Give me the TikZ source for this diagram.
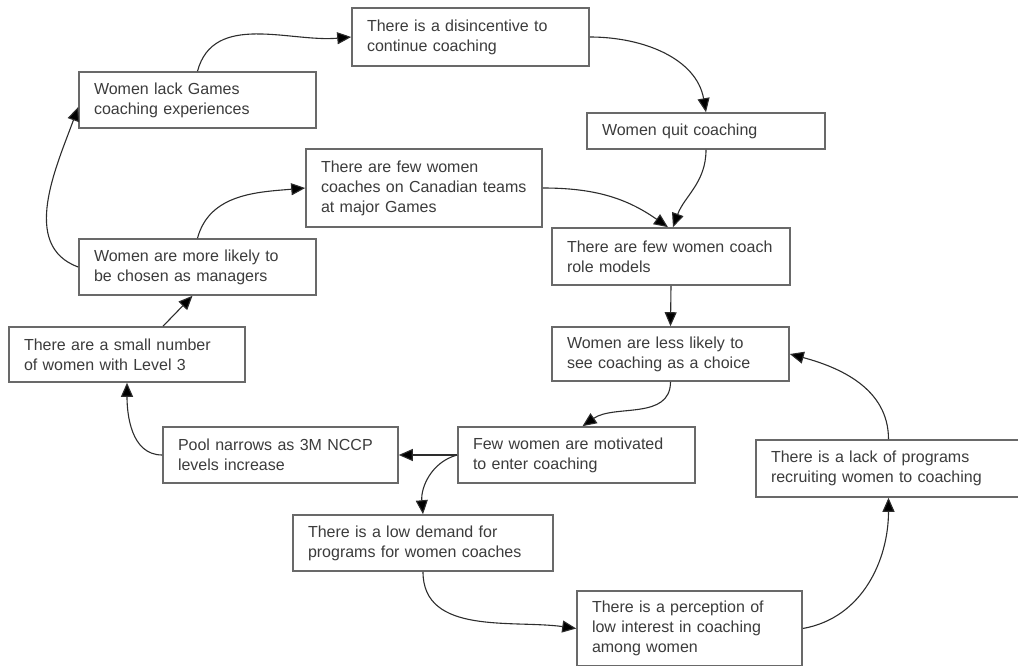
\documentclass[tikz,border=0pt]{standalone}
\usepackage{fontspec}
\setmainfont{Liberation Sans}
\usepackage{tikz}
\usetikzlibrary{arrows.meta}
\definecolor{boxgrey}{RGB}{105,105,105}
\definecolor{textgrey}{RGB}{60,60,60}
\definecolor{linegrey}{RGB}{45,45,45}

\begin{document}
\begin{tikzpicture}[x=1pt,y=1pt,
    box/.style={rectangle,draw=boxgrey,line width=1.6pt,fill=white,align=left,inner xsep=15pt,inner ysep=0pt,text=textgrey,font=\fontsize{16}{20}\selectfont},
    link/.style={-{Triangle[length=14pt,width=12pt,fill=black]},draw=linegrey,line width=1.1pt}]
    \useasboundingbox (0,0) rectangle (1018,-666);

    % Ciclo superiore
    \node[box,text width=207pt,minimum height=58pt] (disincentive) at (470.5,-37) {There is a disincentive to \\ continue coaching};
    \node[box,text width=207pt,minimum height=56pt] (lackgames) at (197.5,-100) {Women lack Games \\ coaching experiences};
    \node[box,text width=208pt,minimum height=36pt] (quit) at (706,-131) {Women quit coaching};
    \node[box,text width=206pt,minimum height=78pt] (fewgames) at (424,-188) {There are few women \\ coaches on Canadian teams \\ at major Games};
    \node[box,text width=208pt,minimum height=57pt] (rolemodels) at (671,-256.5) {There are few women coach \\ role models};
    \node[box,text width=207pt,minimum height=56pt] (managers) at (197.5,-267) {Women are more likely to \\ be chosen as managers};

    % Ciclo inferiore
    \node[box,text width=206pt,minimum height=55pt] (level3) at (127,-354.5) {There are a small number \\ of women with Level 3};
    \node[box,text width=207pt,minimum height=54pt] (lesslikely) at (670.5,-354) {Women are less likely to \\ see coaching as a choice};
    \node[box,text width=205pt,minimum height=56pt] (poolnarrows) at (280.5,-455) {Pool narrows as 3M NCCP \\ levels increase};
    \node[box,text width=207pt,minimum height=56pt] (motivated) at (576.5,-455) {Few women are motivated \\ to enter coaching};
    \node[box,text width=235pt,minimum height=57pt] (lackprograms) at (888.5,-468.5) {There is a lack of programs \\ recruiting women to coaching};
    \node[box,text width=230pt,minimum height=56pt] (lowdemand) at (423,-543) {There is a low demand for \\ programs for women coaches};
    \node[box,text width=195pt,minimum height=75pt] (perception) at (689.5,-628.5) {There is a perception of \\ low interest in coaching \\ among women};

    % Frecce
    \draw[link] (lackgames.north) to[out=75,in=185] (disincentive.west);
    \draw[link] (disincentive.east) to[out=0,in=100] (quit.north);
    \draw[link] (quit.south) to[out=-90,in=70] ([xshift=2pt]rolemodels.north);
    \draw[link] (fewgames.east) to[out=0,in=145] ([xshift=-3pt]rolemodels.north);
    \draw[link] (rolemodels.south) -- (lesslikely.north);
    \draw[link] (lesslikely.south) to[out=-90,in=35] ([xshift=6pt]motivated.north);
    \draw[link] (motivated.west) -- (poolnarrows.east);
    \draw[link] (motivated.west) to[out=195,in=95] (lowdemand.north);
    \draw[link] (poolnarrows.west) to[out=180,in=-90] (level3.south);
    \draw[link] ([xshift=36pt]level3.north) -- ([xshift=-5pt]managers.south);
    \draw[link] (managers.west) to[out=160,in=-110] ([yshift=-7pt]lackgames.west);
    \draw[link] (managers.north) to[out=75,in=185] (fewgames.west);
    \draw[link] (lowdemand.south) to[out=-90,in=172] (perception.west);
    \draw[link] (perception.east) to[out=10,in=-90] (lackprograms.south);
    \draw[link] (lackprograms.north) to[out=90,in=-15] (lesslikely.east);
\end{tikzpicture}
\end{document}
